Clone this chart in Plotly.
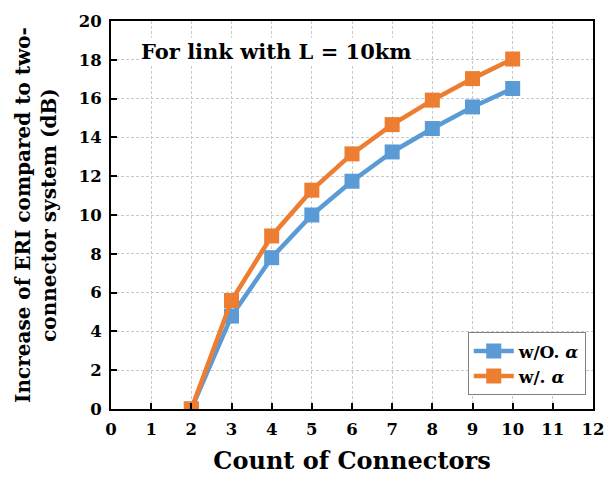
import plotly.graph_objects as go

connectors = [2, 3, 4, 5, 6, 7, 8, 9, 10]
eri_without = [0, 4.79, 7.8, 10.0, 11.74, 13.25, 14.46, 15.57, 16.52]
eri_with = [0, 5.59, 8.92, 11.28, 13.15, 14.66, 15.92, 17.03, 18.04]
series_names = ["w/O. <i>α</i>", "w/. <i>α</i>"]
x_ticks = list(range(0, 13))
y_ticks = list(range(0, 21, 2))

FONT = "DejaVu Serif"

fig = go.Figure()
fig.add_trace(go.Scatter(x=connectors, y=eri_without, name=series_names[0], mode="lines+markers",
                         line=dict(color="#5B9BD5", width=4.5),
                         marker=dict(symbol="square", size=15, color="#5B9BD5")))
fig.add_trace(go.Scatter(x=connectors, y=eri_with, name=series_names[1], mode="lines+markers",
                         line=dict(color="#ED7D31", width=4.5),
                         marker=dict(symbol="square", size=15, color="#ED7D31")))

axis_common = dict(showline=True, linecolor="black", linewidth=2, mirror=True,
                   ticks="inside", ticklen=6, tickwidth=1.5, tickcolor="black",
                   showgrid=True, gridcolor="#c8c8c8", griddash="3px,2px", gridwidth=1,
                   zeroline=False, tickfont=dict(family=FONT, size=16.5, color="black", weight="bold"))

fig.update_xaxes(range=[0, 12], tickvals=x_ticks, ticklabelstandoff=4,
                 title=dict(text="<b>Count of Connectors</b>", font=dict(family=FONT, size=24, color="black"), standoff=14),
                 **axis_common)
fig.update_yaxes(range=[0, 20], tickvals=y_ticks, ticklabelstandoff=4,
                 title=dict(text="<b>Increase of ERI compared to two-<br>connector system (dB)</b>",
                            font=dict(family=FONT, size=20, color="black"), standoff=17),
                 **axis_common)

fig.add_annotation(x=0.058, y=0.96, xref="paper", yref="paper", xanchor="left", yanchor="top",
                   text="<b>For link with L = 10km</b>", showarrow=False,
                   font=dict(family=FONT, size=21, color="black"), bgcolor="white")

fig.update_layout(width=616, height=482, plot_bgcolor="white", paper_bgcolor="white",
                  margin=dict(l=111, r=12, t=15, b=69),
                  legend=dict(x=0.985, y=0.035, xanchor="right", yanchor="bottom",
                              bgcolor="white", bordercolor="#808080", borderwidth=1,
                              font=dict(family=FONT, size=17, color="black", weight="bold"),
                              tracegroupgap=0, itemwidth=40))

fig.write_html("out.html")
